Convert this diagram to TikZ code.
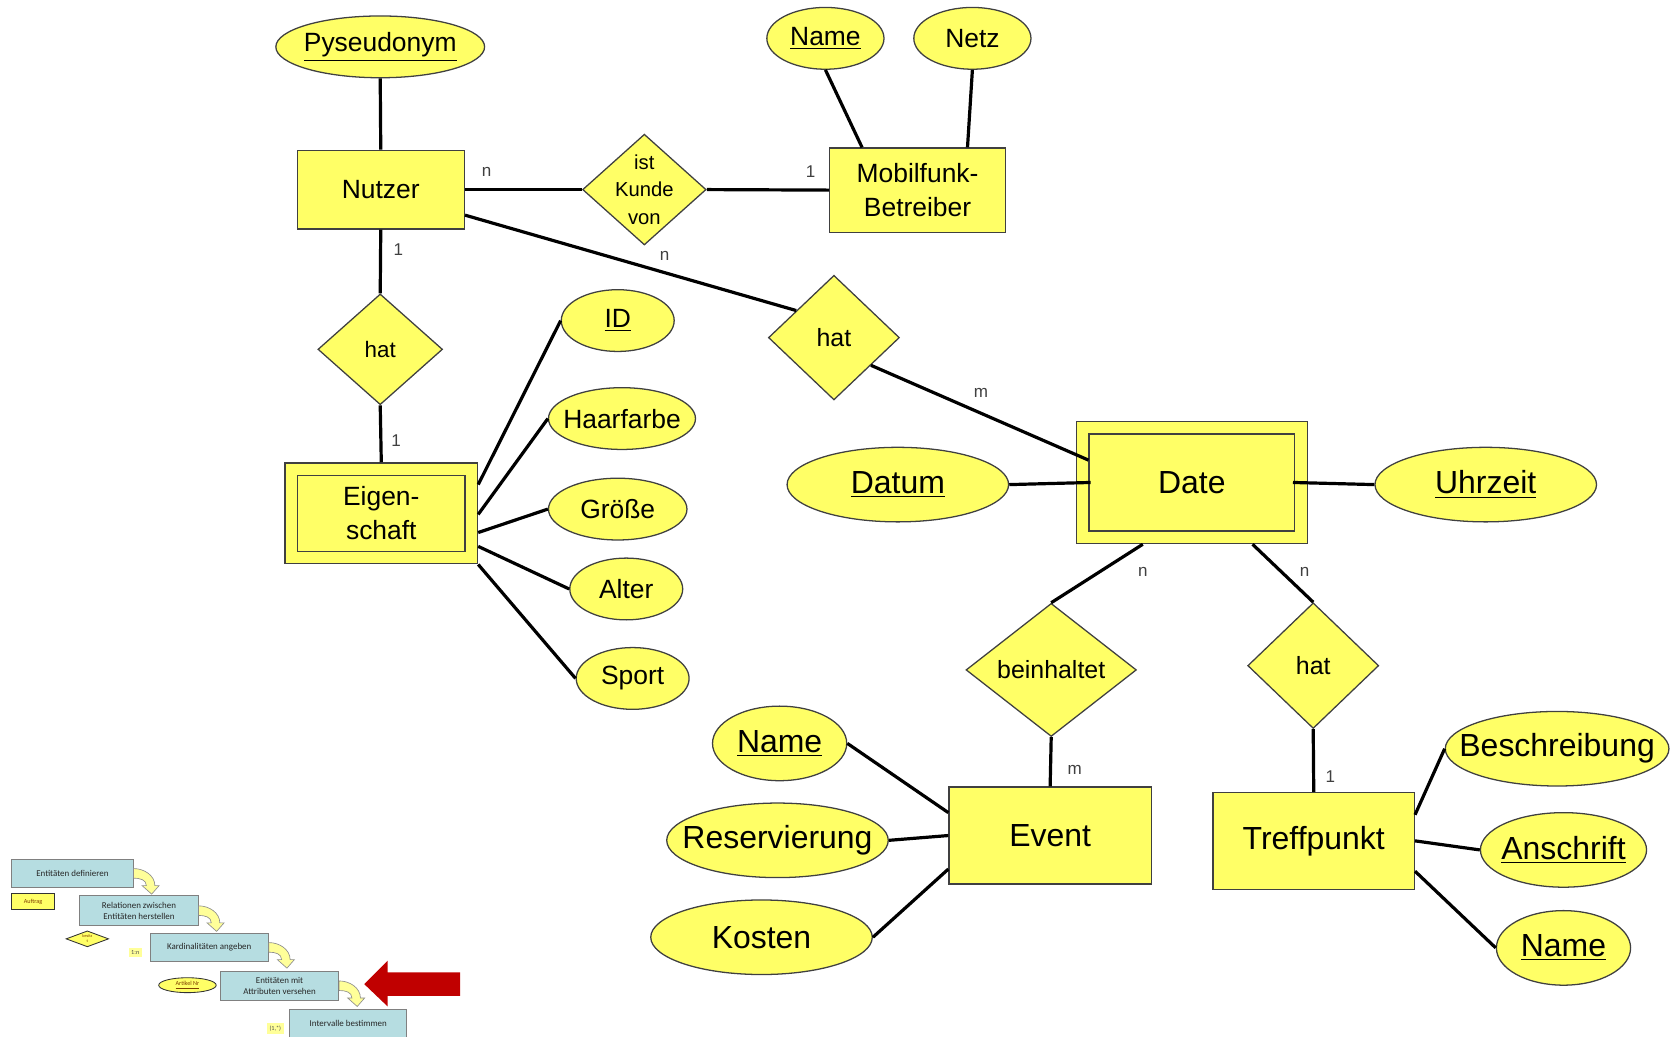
\documentclass[tikz,border=0pt]{standalone}
\usepackage{fontspec}
\setmainfont{Liberation Sans}
\newfontfamily\calfont{Carlito}
\usetikzlibrary{shapes.geometric, calc}

\definecolor{erYellow}{HTML}{FFFF66}
\definecolor{erLine}{HTML}{404040}
\definecolor{stepCyan}{HTML}{B6DDE1}
\definecolor{flowYellow}{HTML}{FFFF99}
\definecolor{markRed}{HTML}{C00000}
\definecolor{noteBrown}{HTML}{7F3F00}

\tikzset{
  erfont/.style={font=\fontsize{12.4}{16}\selectfont},
  bigfont/.style={font=\fontsize{15}{18}\selectfont},
  shapebase/.style={draw=erLine, fill=erYellow, line width=0.6pt, inner sep=0pt},
  ent/.style={shapebase, erfont, align=center},
  weak/.style={ent, double=erYellow, double distance=5.3pt, outer sep=3.25pt},
  attr/.style={shapebase, ellipse, minimum height=29pt, label={[erfont]center:#1}},
  attrbig/.style={shapebase, ellipse, minimum height=35pt, label={[bigfont]center:#1}},
  rel/.style={shapebase, diamond, label={[font=\fontsize{11.7}{14}\selectfont]center:#1}},
  conn/.style={line width=1.5pt},
  card/.style={font=\fontsize{8}{9}\selectfont, text=black!75, inner sep=0pt},
  stepbox/.style={draw=gray, fill=stepCyan, line width=0.4pt, inner sep=0pt,
    align=center, font=\calfont\fontsize{4.2}{5}\selectfont, text=black!85},
  tinyfont/.style={font=\calfont\fontsize{2.9}{3.2}\selectfont, text=noteBrown},
  flowarr/.style={draw=gray!90, fill=flowYellow, line width=0.3pt}
}

\begin{document}
\begin{tikzpicture}[x=0.5pt, y=-0.5pt]
    \useasboundingbox (0,0) rectangle (1568,973);

    % --- 1. Nutzer, Mobilfunk-Betreiber ---
    \node[attr=\underline{Pyseudonym}, minimum width=98pt] (pseudo) at (357,44) {};
    \node[attr=\underline{Name}, minimum width=55pt] (nameB) at (775,36) {};
    \node[attr=Netz, minimum width=55pt] (netz) at (913,36) {};
    \node[ent, minimum width=78.5pt, minimum height=37pt] (nutzer) at (357.5,178) {Nutzer};
    \node[shapebase, diamond, minimum width=58pt, minimum height=52pt,
          label={[font=\fontsize{9.5}{13}\selectfont, align=center]center:ist\\Kunde\\von}] (kunde) at (605,178) {};
    \node[ent, minimum width=82.5pt, minimum height=39.5pt] (mobil) at (861.5,178.5) {Mobilfunk-\\Betreiber};

    % --- 2. Eigenschaft ---
    \node[shapebase, diamond, minimum width=58.5pt, minimum height=52pt,
          label={[font=\fontsize{10.5}{13}\selectfont]center:hat}] (hatE) at (357,328) {};
    \node[weak, minimum width=84.5pt, minimum height=41.5pt] (eig) at (358,482) {Eigen-\\schaft};
    \node[attr=\underline{ID}, minimum width=53pt] (id) at (580,301) {};
    \node[attr=Haarfarbe, minimum width=69pt] (haar) at (584,393) {};
    \node[attr=Größe, minimum width=65pt] (groesse) at (580,478) {};
    \node[attr=Alter, minimum width=53pt] (alter) at (588,553) {};
    \node[attr=Sport, minimum width=53pt] (sport) at (594,637) {};

    % --- 3. Date ---
    \node[rel=hat, minimum width=61.5pt, minimum height=58.5pt] (hatD) at (783,317) {};
    \node[weak, bigfont, minimum width=102.5pt, minimum height=51.5pt] (date) at (1119,453) {Date};
    \node[attrbig=\underline{Datum}, minimum width=104pt] (datum) at (843,455) {};
    \node[attrbig=\underline{Uhrzeit}, minimum width=104pt] (uhrzeit) at (1395,455) {};

    % --- 4. Event, Treffpunkt ---
    \node[rel=beinhaltet, minimum width=80pt, minimum height=62.5pt] (beinh) at (987,629) {};
    \node[rel=hat, minimum width=61.5pt, minimum height=59pt] (hatT) at (1233,625) {};
    \node[ent, bigfont, minimum width=95pt, minimum height=45.5pt] (event) at (986,784.5) {Event};
    \node[ent, bigfont, minimum width=94.5pt, minimum height=45.5pt] (treff) at (1233.5,789.5) {Treffpunkt};
    \node[attrbig=\underline{Name}, minimum width=63pt] (nameE) at (732,698) {};
    \node[attrbig=Reservierung, minimum width=104pt] (reserv) at (730,789) {};
    \node[attrbig=Kosten, minimum width=104pt] (kosten) at (715,880) {};
    \node[attrbig=Beschreibung, minimum width=105pt] (besch) at (1462,703) {};
    \node[attrbig=\underline{Anschrift}, minimum width=78pt] (ansch) at (1468,798) {};
    \node[attrbig=\underline{Name}, minimum width=63pt] (nameT) at (1468,890) {};

    % --- 5. Linien ---
    \draw[conn] (pseudo.south) -- (nutzer.north);
    \draw[conn] (nameB.south) -- ($(mobil.north west)+(31,0)$);
    \draw[conn] (netz.south) -- ($(mobil.north west)+(130,0)$);
    \draw[conn] (nutzer.east) -- (kunde.west);
    \draw[conn] (kunde.east) -- (mobil.west);
    \draw[conn] ($(nutzer.east)+(0,24)$) -- ($(hatD.west)!0.43!(hatD.north)$);
    \draw[conn] ($(hatD.east)!0.44!(hatD.south)$) -- ($(date.west)+(12,-21)$);
    \draw[conn] (nutzer.south) -- (hatE.north);
    \draw[conn] (hatE.south) -- (eig.north);
    \foreach \a/\d in {id/-27, haar/1, groesse/18, alter/31, sport/48}
        \draw[conn] ($(eig.east)+(0,\d)$) -- (\a.west);
    \draw[conn] (datum.east) -- ($(date.west)+(14,0)$);
    \draw[conn] ($(date.east)+(-14,0)$) -- (uhrzeit.west);
    \draw[conn] ($(date.south)+(-46,0)$) -- (beinh.north);
    \draw[conn] ($(date.south)+(57,0)$) -- (hatT.north);
    \draw[conn] (beinh.south) -- (event.north);
    \draw[conn] (hatT.south) -- (treff.north);
    \draw[conn] (nameE.east) -- ($(event.west)+(0,-21.5)$);
    \draw[conn] (reserv.east) -- (event.west);
    \draw[conn] (kosten.east) -- ($(event.west)+(0,31.5)$);
    \draw[conn] ($(treff.east)+(0,-24.5)$) -- (besch.west);
    \draw[conn] (treff.east) -- (ansch.west);
    \draw[conn] ($(treff.east)+(0,28.5)$) -- (nameT.west);

    % --- 6. Kardinalitäten ---
    \node[card] (c1) at (457,161) {n};
    \node[card] (c2) at (761,161) {1};
    \node[card] (c3) at (624,240) {n};
    \node[card] (c4) at (921,369) {m};
    \node[card] (c5) at (374,234) {1};
    \node[card] (c6) at (372,414) {1};
    \node[card] (c7) at (1073,537) {n};
    \node[card] (c8) at (1225,537) {n};
    \node[card] (c9) at (1009,723) {m};
    \node[card] (c10) at (1249,729) {1};

    % --- 7. Ablauf (unten links) ---
    \node[stepbox, minimum width=57pt, minimum height=13pt] (s1) at (68,820) {Entitäten definieren};
    \node[stepbox, minimum width=55.5pt, minimum height=14pt] (s2) at (130.5,855) {Relationen zwischen\\Entitäten herstellen};
    \node[stepbox, minimum width=55.5pt, minimum height=13.5pt] (s3) at (196.5,889.5) {Kardinalitäten angeben};
    \node[stepbox, minimum width=55.5pt, minimum height=13.5pt] (s4) at (262.5,925.5) {Entitäten mit\\Attributen versehen};
    \node[stepbox, minimum width=55pt, minimum height=13.5pt] (s5) at (327,961) {Intervalle bestimmen};
    \foreach \s in {s1,s2,s3,s4}
        \draw[flowarr, shift={(\s.east)}] (0,-4.5) .. controls (10,-4.5) and (20,2) .. (20,11.5)
            -- (24,11.5) -- (17,19.5) -- (8,11.5) -- (12,11.5) .. controls (12,6) and (6,4.5) .. (0,4.5) -- cycle;

    \node[draw=black!80, fill=erYellow, line width=0.5pt, inner sep=0pt, minimum width=20pt,
          minimum height=7.5pt, tinyfont] (auftrag) at (31,846.5) {Auftrag};
    \node[diamond, draw=black!80, fill=erYellow, line width=0.4pt, inner sep=0pt, minimum width=20pt,
          minimum height=7.5pt, label={[tinyfont, font=\calfont\fontsize{2}{2.3}\selectfont, align=center]center:besitz\\t}] (besitzt) at (82,881.5) {};
    \node[fill=flowYellow, inner sep=1.2pt, tinyfont, text=black!70] (kard) at (127,894.5) {1:n};
    \node[ellipse, draw=black!80, fill=erYellow, line width=0.4pt, inner sep=0pt, minimum width=27pt,
          minimum height=7pt, tinyfont] (artnr) at (176,925) {\underline{Artikel Nr}};
    \node[fill=flowYellow, inner sep=1.2pt, tinyfont, text=black!70] (intv) at (258.5,965.5) {(1,*)};

    % Markierung
    \fill[markRed] (432,913) -- (364,913) -- (364,902) -- (342,924) -- (364,945) -- (364,935) -- (432,935) -- cycle;
\end{tikzpicture}
\end{document}
